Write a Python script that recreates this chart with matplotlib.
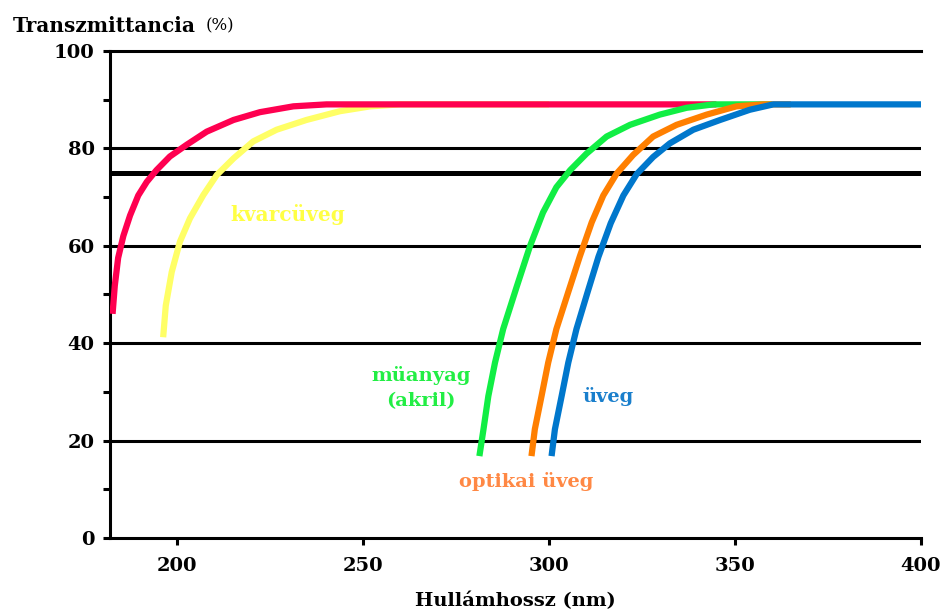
import matplotlib.pyplot as plt
from matplotlib.ticker import MultipleLocator

# leolvasott pontok (hullámhossz nm, transzmittancia %)
voros_x = [182.7, 183.3, 184.2, 185.6, 187.4, 189.6, 191.9, 194.5, 198.1, 202.6, 208, 215.2, 222.3, 231.3, 240.2, 345]
voros_y = [46, 51.8, 57.5, 62, 66.2, 70.3, 73.1, 75.5, 78.3, 80.7, 83.4, 85.8, 87.4, 88.6, 89, 89]

kvarc_x = [196.3, 197, 198.6, 200.8, 203.5, 207.1, 210.7, 215.2, 220.5, 226.8, 234.8, 243.8, 252, 260, 300]
kvarc_y = [41.2, 47.7, 54.6, 60.8, 65.6, 70.4, 74.5, 77.9, 81.4, 83.8, 85.8, 87.6, 88.6, 89, 89]

akril_x = [281.3, 282.4, 283.7, 285.5, 287.7, 291.3, 294.9, 298.4, 302, 305.7, 310.1, 315.5, 321.8, 329.8, 337, 344.2, 360]
akril_y = [16.8, 22.3, 29.1, 36, 42.9, 51.5, 59.9, 66.8, 72, 75.5, 78.9, 82.4, 84.8, 86.9, 88.3, 89, 89]

optikai_x = [295.3, 296.2, 298, 299.8, 302, 305.2, 308.3, 311.5, 314.6, 318.2, 322.6, 328, 334.3, 342.4, 350.4, 357.5, 365]
optikai_y = [16.8, 22.3, 29.1, 36, 42.9, 50.5, 57.8, 64.8, 70.3, 74.8, 78.6, 82.4, 84.8, 86.9, 88.6, 89, 89]

uveg_x = [300.7, 301.6, 303.4, 305.2, 307.4, 310.4, 313.3, 316.6, 320, 323.6, 328, 332.5, 338.8, 346, 354, 360.3, 400]
uveg_y = [16.8, 22.3, 29.1, 36, 42.9, 50.5, 57.7, 64.6, 70.3, 74.7, 78.2, 81, 83.8, 85.8, 87.9, 89, 89]

racs = [20, 40, 60, 80]
hatar = 75

plt.rcParams['font.family'] = 'DejaVu Serif'
plt.rcParams['font.weight'] = 'bold'
plt.rcParams['axes.labelweight'] = 'bold'

fig = plt.figure(figsize=(9.48, 6.12), dpi=100)
ax = fig.add_axes([0.116, 0.121, 0.8555, 0.796])

for y in racs:
    ax.axhline(y, color='black', lw=2.2, zorder=1)
ax.axhline(hatar, color='black', lw=3.6, zorder=1)

lw = 4.5
ax.plot(kvarc_x, kvarc_y, color='#ffff66', lw=lw, solid_capstyle='butt', zorder=2)
ax.plot(voros_x, voros_y, color='#ff0050', lw=lw, solid_capstyle='butt', zorder=3)
ax.plot(akril_x, akril_y, color='#11ee44', lw=lw, solid_capstyle='butt', zorder=4)
ax.plot(optikai_x, optikai_y, color='#ff7f00', lw=lw, solid_capstyle='butt', zorder=5)
ax.plot(uveg_x, uveg_y, color='#0077cc', lw=lw, solid_capstyle='butt', zorder=6)

ax.set_xlim(182, 400)
ax.set_ylim(0, 100)
ax.xaxis.set_major_locator(MultipleLocator(50))
ax.yaxis.set_major_locator(MultipleLocator(20))
ax.yaxis.set_minor_locator(MultipleLocator(10))
ax.tick_params(axis='both', which='both', direction='out', width=2.2, length=5,
               labelsize=14, pad=6)
ax.tick_params(axis='x', pad=9)

for s in ['left', 'bottom', 'top']:
    ax.spines[s].set_linewidth(2.2)
ax.spines['right'].set_visible(False)

ax.text(214.3, 66.3, 'kvarcüveg', color='#ffff44', fontsize=14.5, va='center', ha='left')
ax.text(265.6, 30.8, 'müanyag\n(akril)', color='#22ee44', fontsize=14, va='center',
        ha='center', linespacing=1.5)
ax.text(294, 11.5, 'optikai üveg', color='#ff8844', fontsize=14, va='center', ha='center')
ax.text(309, 29, 'üveg', color='#1a7fcc', fontsize=14, va='center', ha='left')

fig.text(0.013, 0.958, 'Transzmittancia', fontsize=14.5, va='center', ha='left')
fig.text(0.217, 0.958, '(%)', fontsize=12, fontweight='normal', va='center', ha='left')
ax.set_xlabel('Hullámhossz (nm)', fontsize=14, labelpad=12)

fig.savefig('out.png', dpi=100)
